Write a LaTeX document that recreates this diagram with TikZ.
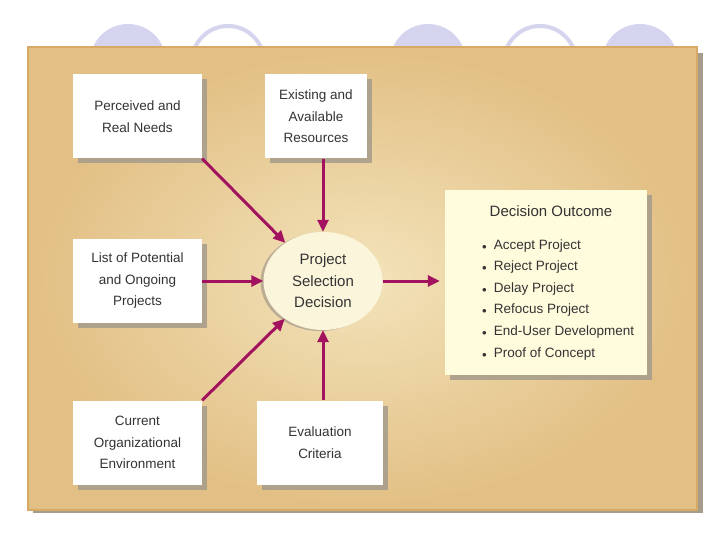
\documentclass[tikz,border=0pt]{standalone}
\usepackage{fontspec}
\setmainfont{Liberation Sans}
\usetikzlibrary{arrows.meta,shapes.geometric,shadows,positioning}
\definecolor{panelin}{HTML}{F3E3BA}
\definecolor{panelout}{HTML}{E2BF84}
\definecolor{panelrim}{HTML}{D8A964}
\definecolor{lavender}{HTML}{D4D4EE}
\definecolor{shadowgray}{HTML}{A59C8C}
\definecolor{arrowmag}{HTML}{A3125F}
\definecolor{textgray}{HTML}{333333}
\definecolor{ellfill}{HTML}{FBF5DC}
\definecolor{outfill}{HTML}{FFFBDD}

\begin{document}
\begin{tikzpicture}[x=1pt, y=-1pt,
	box/.style={fill=white, minimum width=129pt, minimum height=84pt, inner sep=2pt,
		align=center, text=textgray, font=\fontsize{13.5}{21.5}\selectfont,
		drop shadow={shadow xshift=5pt, shadow yshift=-5pt, fill=shadowgray, opacity=0.85}},
	arr/.style={-{Triangle[length=12pt,width=11pt]}, line width=3pt, draw=arrowmag},
	bul/.style={anchor=west, inner sep=0pt, text=textgray, font=\fontsize{13.5}{16}\selectfont}
]
	\useasboundingbox (0,0) rectangle (720,540);
	% slide decoration behind the panel
	\foreach \cx in {128,428,640}
		\fill[lavender] (\cx,62) circle (38);
	\foreach \cx in {228,540}
		\draw[lavender, line width=4pt, fill=white] (\cx,62) circle (36);
	% panel
	\fill[shadowgray] (33,53) rectangle (703,513);
	\shade[inner color=panelin, outer color=panelout] (28,47) rectangle (697,510);
	\draw[panelrim, line width=1.5pt] (28,47) rectangle (697,510);
	% inputs
	\node[box] (need) at (137.5,116.5) {Perceived and\\ Real Needs};
	\node[box, minimum width=102pt] (res) at (316,116.5) {Existing and\\ Available\\ Resources};
	\node[box] (list) at (137.5,281) {List of Potential\\ and Ongoing\\ Projects};
	\node[box] (env) at (137.5,442.5) {Current\\ Organizational\\ Environment};
	\node[box, minimum width=126pt] (crit) at (320,442.5) {Evaluation\\ Criteria};
	% decision
	\node[ellipse, fill=ellfill, minimum width=119pt, minimum height=98pt, inner sep=0pt,
		align=center, text=textgray, font=\fontsize{15}{21.5}\selectfont,
		drop shadow={shadow xshift=-3pt, shadow yshift=-1pt, fill=shadowgray, opacity=0.7}]
		(ell) at (323,281) {Project\\ Selection\\ Decision};
	% outcome
	\node[box, fill=outfill, minimum width=202pt, minimum height=185pt] (out) at (546,282.5) {};
	\node[text=textgray, font=\fontsize{15}{18}\selectfont] (title) at (551,211) {Decision Outcome};
	\foreach \t [count=\i] in {Accept Project, Reject Project, Delay Project,
			Refocus Project, End-User Development, Proof of Concept}
		\node[bul] (o\i) at (482,224+21.6*\i) {$\scriptstyle\bullet$\hspace{7pt}\t};
	% connectors
	\draw[arr] (need.south east) -- (ell);
	\draw[arr] (ell.north |- res.south) -- (ell.north);
	\draw[arr] (list.east) -- (ell.west);
	\draw[arr] (env.north east) -- (ell);
	\draw[arr] (ell.south |- crit.north) -- (ell.south);
	\draw[arr, shorten >=5pt] (ell.east) -- (ell.east -| out.west);
\end{tikzpicture}
\end{document}
